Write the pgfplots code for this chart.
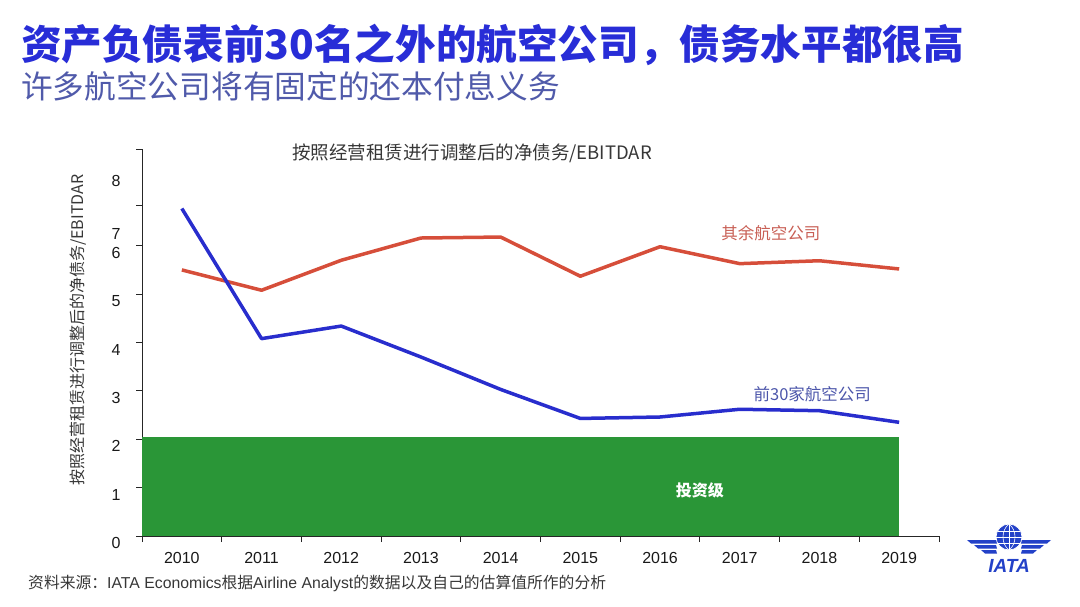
\documentclass[border=0pt]{standalone}
\usepackage{pgfplots}
\pgfplotsset{compat=1.18}
\usepackage{fontspec}
\setmainfont{Liberation Sans}
\newfontfamily\cjk{Noto Sans CJK SC}

\definecolor{titleblue}{RGB}{40,45,215}
\definecolor{subblue}{RGB}{80,90,170}
\definecolor{redline}{RGB}{214,78,58}
\definecolor{blueline}{RGB}{40,45,205}
\definecolor{bargreen}{RGB}{42,150,55}
\definecolor{redtext}{RGB}{200,95,85}
\definecolor{bluetext}{RGB}{75,85,170}
\definecolor{iatablue}{RGB}{35,65,200}
\definecolor{txtgray}{RGB}{55,55,55}

\begin{document}
\begin{tikzpicture}
\useasboundingbox (0,0) rectangle (1080pt,-607pt);

% titles
\node[anchor=west, inner sep=0, text=titleblue,
      font=\cjk\bfseries\fontsize{40.6}{44}\selectfont] at (21pt,-45pt)
  {资产负债表前30名之外的航空公司，债务水平都很高};
\node[anchor=west, inner sep=0, text=subblue,
      font=\cjk\fontsize{31.7}{34}\selectfont] at (21pt,-86pt)
  {许多航空公司将有固定的还本付息义务};

\begin{axis}[
  at={(142pt,-536pt)}, anchor=south west,
  scale only axis, width=797pt, height=387pt,
  xmin=2009.5, xmax=2019.5, ymin=0, ymax=8,
  axis lines=left,
  axis line style={-, line width=0.9pt, color=black!85},
  tick align=outside,
  major tick length=6pt,
  tick style={line width=0.9pt, color=black!85},
  xtick={2009.5,2010.5,...,2019.5},
  x tick label as interval,
  xticklabels={2010,2011,2012,2013,2014,2015,2016,2017,2018,2019},
  xticklabel style={yshift=-7pt},
  ytick={0,1,2,3,4,5,6,6.83,8},
  yticklabels={,,,,,,,,},
  extra y ticks={0,1,2,3,4,5,6,6.38,7.48},
  extra y tick labels={0,1,2,3,4,5,6,7,8},
  extra y tick style={major tick length=0pt,
    yticklabel style={yshift=-7pt, xshift=-18pt}},
  ticklabel style={font=\fontsize{16}{16}\selectfont, text=black!90},
  title={\cjk 按照经营租赁进行调整后的净债务/EBITDAR},
  title style={at={(axis description cs:0.414,0.983)}, anchor=center,
    yshift=-4pt, font=\fontsize{18.5}{18.5}\selectfont, text=txtgray},
  ylabel={\cjk 按照经营租赁进行调整后的净债务/EBITDAR},
  ylabel style={at={(axis description cs:-0.0803,0.532)}, anchor=center,
    font=\fontsize{16}{16}\selectfont, text=txtgray},
  clip=false,
]
\addplot[fill=bargreen, draw=none] coordinates
  {(2009.5,0) (2009.5,2.05) (2019,2.05) (2019,0)} -- cycle;

\addplot[redline, line width=3.5pt, line join=round] coordinates {
  (2010,5.50) (2011,5.08) (2012,5.70) (2013,6.16) (2014,6.18)
  (2015,5.37) (2016,5.98) (2017,5.63) (2018,5.69) (2019,5.52)
};
\addplot[blueline, line width=3.5pt, line join=round] coordinates {
  (2010,6.77) (2011,4.08) (2012,4.34) (2013,3.70) (2014,3.03)
  (2015,2.43) (2016,2.46) (2017,2.62) (2018,2.59) (2019,2.35)
};

\node[text=redtext, font=\cjk\fontsize{16.5}{16.5}\selectfont]
  at (axis cs:2017.39,6.26) {其余航空公司};
\node[text=bluetext, font=\cjk\fontsize{16.5}{16.5}\selectfont]
  at (axis cs:2017.91,2.93) {前30家航空公司};
\node[text=white, font=\cjk\bfseries\fontsize{16}{16}\selectfont]
  at (axis cs:2016.5,0.95) {投资级};
\end{axis}

% source note
\node[anchor=west, inner sep=0, text=txtgray,
      font=\fontsize{15.8}{16}\selectfont] at (28pt,-583pt)
  {{\cjk 资料来源：}IATA Economics{\cjk 根据}Airline Analyst{\cjk 的数据以及自己的估算值所作的分析}};

% IATA logo
\fill[iatablue] (1009pt,-537pt) circle (13pt);
\draw[white, line width=0.7pt] (1009pt,-537pt) circle (13pt);
\draw[white, line width=0.6pt] (996pt,-537pt) -- (1022pt,-537pt);
\draw[white, line width=0.6pt] (998pt,-531pt) -- (1020pt,-531pt);
\draw[white, line width=0.6pt] (998pt,-543pt) -- (1020pt,-543pt);
\draw[white, line width=0.6pt] (1009pt,-524pt) -- (1009pt,-550pt);
\draw[white, line width=0.6pt] (1009pt,-524pt) .. controls (1001pt,-530pt) and (1001pt,-544pt) .. (1009pt,-550pt);
\draw[white, line width=0.6pt] (1009pt,-524pt) .. controls (1017pt,-530pt) and (1017pt,-544pt) .. (1009pt,-550pt);
\foreach \i in {0,1,2} {
  \fill[iatablue] (967pt+7pt*\i,-540pt-5pt*\i) -- (996pt,-540pt-5pt*\i)
    -- (997pt,-543.5pt-5pt*\i) -- (971pt+7pt*\i,-543.5pt-5pt*\i) -- cycle;
  \fill[iatablue] (1051pt-7pt*\i,-540pt-5pt*\i) -- (1022pt,-540pt-5pt*\i)
    -- (1021pt,-543.5pt-5pt*\i) -- (1047pt-7pt*\i,-543.5pt-5pt*\i) -- cycle;
}
\node[text=iatablue, font=\bfseries\itshape\fontsize{19}{19}\selectfont]
  at (1009pt,-566pt) {IATA};
\end{tikzpicture}
\end{document}
